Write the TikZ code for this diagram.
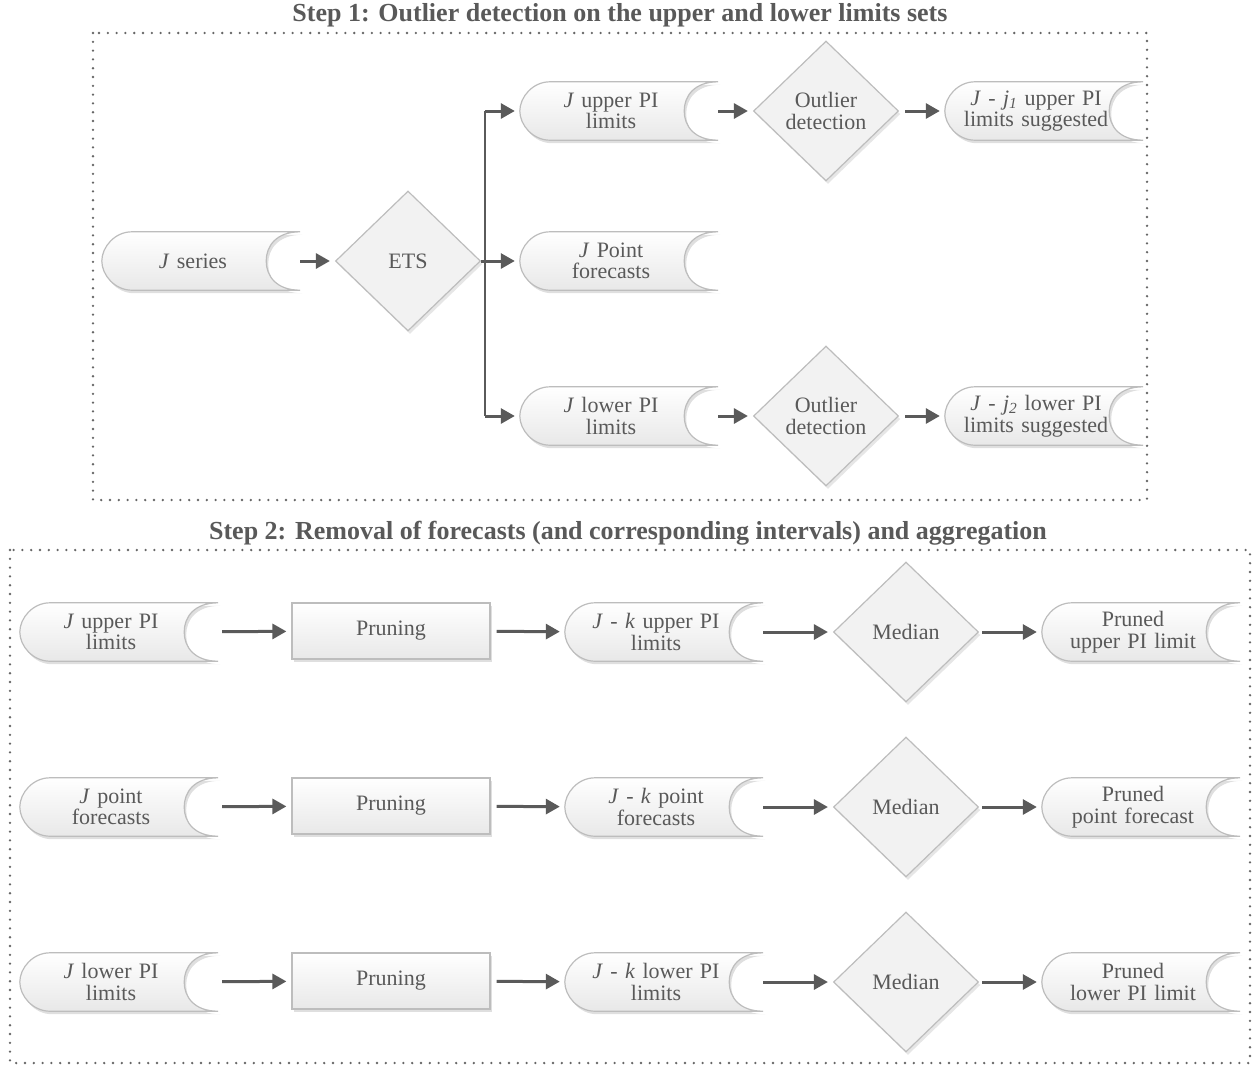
\documentclass[tikz,border=0pt]{standalone}
\usepackage{fontspec}
\setmainfont{Liberation Serif}
\usetikzlibrary{shapes.geometric, arrows.meta, shadows, backgrounds, calc}
\definecolor{txtgray}{HTML}{595959}
\definecolor{linegray}{HTML}{5A5A5A}
\definecolor{edgegray}{HTML}{BDBDBD}
\tikzset{
  labelfont/.style={font=\fontsize{22}{21.5}\selectfont, text=txtgray},
  store/.style={rectangle, text width=198pt, minimum height=58pt, inner sep=0pt, labelfont,
    execute at begin node={\centering\rightskip=16pt plus 1fil}},
  storeline/.style={draw=edgegray, line width=1.2pt, top color=white, bottom color=black!9,
    drop shadow={shadow xshift=2pt, shadow yshift=-3pt, opacity=0.25}},
  decision/.style={diamond, draw=edgegray, line width=1.2pt, fill=black!5, minimum width=145pt,
    minimum height=140pt, inner sep=0pt, align=center, labelfont,
    drop shadow={shadow xshift=2pt, shadow yshift=-3pt, opacity=0.2}},
  process/.style={rectangle, draw=edgegray, line width=1.2pt, top color=white, bottom color=black!9,
    minimum width=198pt, minimum height=56pt, inner sep=0pt, labelfont,
    drop shadow={shadow xshift=2pt, shadow yshift=-3pt, opacity=0.25}},
  flow/.style={draw=linegray, line width=3pt, -{Triangle[length=14pt,width=15pt]}, shorten >=5pt},
  stepbox/.style={draw=black!60, line width=2.6pt, dash pattern=on 0pt off 8.8pt, line cap=round},
  steptitle/.style={font=\bfseries\fontsize{26}{26}\selectfont, text=txtgray}
}

\begin{document}
\begin{tikzpicture}[x=1pt, y=-1pt]
        \useasboundingbox (0, 0) rectangle (1252, 1066);
        % Step boxes and their titles
        \draw[stepbox] (93, 33) rectangle (1147, 500);
        \draw[stepbox] (10, 550) rectangle (1250, 1063);
        \node[steptitle] (title1) at (620, 15) {Step 1: Outlier detection on the upper and lower limits sets};
        \node[steptitle] (title2) at (628, 533) {Step 2: Removal of forecasts (and corresponding intervals) and aggregation};

        % Step 1: series, ETS and the three forecast sets
        \node[store] (jser) at (201, 261) {\textit{J} series};
        \node[decision] (ets) at (408, 261) {ETS};
        \node[store] (jup) at (619, 111) {\textit{J} upper PI\\limits};
        \node[store] (jpt) at (619, 261) {\textit{J} Point\\forecasts};
        \node[store] (jlo) at (619, 416) {\textit{J} lower PI\\limits};
        \node[decision] (outup) at (826, 111) {Outlier\\detection};
        \node[decision] (outlo) at (826, 416) {Outlier\\detection};
        \node[store] (sugup) at (1044, 111) {\textit{J} - \textit{j}\textsubscript{\textit{1}} upper PI\\limits suggested};
        \node[store] (suglo) at (1044, 416) {\textit{J} - \textit{j}\textsubscript{\textit{2}} lower PI\\limits suggested};

        % Step 2: pruning and median of each set
        \node[store] (aup) at (119, 632) {\textit{J} upper PI\\limits};
        \node[store] (apt) at (119, 807) {\textit{J} point\\forecasts};
        \node[store] (alo) at (119, 982) {\textit{J} lower PI\\limits};
        \node[process] (prup) at (391, 631) {Pruning};
        \node[process] (prpt) at (391, 806) {Pruning};
        \node[process] (prlo) at (391, 981) {Pruning};
        \node[store] (kup) at (664, 632) {\textit{J} - \textit{k} upper PI\\limits};
        \node[store] (kpt) at (664, 807) {\textit{J} - \textit{k} point\\forecasts};
        \node[store] (klo) at (664, 982) {\textit{J} - \textit{k} lower PI\\limits};
        \node[decision] (medup) at (906, 632) {Median};
        \node[decision] (medpt) at (906, 807) {Median};
        \node[decision] (medlo) at (906, 982) {Median};
        \node[store] (rup) at (1141, 632) {Pruned\\upper PI limit};
        \node[store] (rpt) at (1141, 807) {Pruned\\point forecast};
        \node[store] (rlo) at (1141, 982) {Pruned\\lower PI limit};

        % Draw the stored data outlines behind the labels
        \begin{scope}[on background layer]
          \foreach \n in {jser, jup, jpt, jlo, sugup, suglo, aup, apt, alo, kup, kpt, klo, rup, rpt, rlo}
            \draw[storeline] ([xshift=30pt]\n.north west)
              .. controls ([xshift=13pt]\n.north west) and ([yshift=14pt]\n.west) .. (\n.west)
              .. controls ([yshift=-14pt]\n.west) and ([xshift=13pt]\n.south west) .. ([xshift=30pt]\n.south west)
              -- (\n.south east)
              .. controls ([xshift=-24pt]\n.south east) and ([xshift=-34pt, yshift=-15pt]\n.east) .. ([xshift=-34pt]\n.east)
              .. controls ([xshift=-34pt, yshift=15pt]\n.east) and ([xshift=-24pt]\n.north east) .. (\n.north east)
              -- cycle;
        \end{scope}

        % Step 1 connectors
        \coordinate (branch) at ($(ets.east)+(4, 0)$);
        \draw[linegray, line width=3pt] (ets.east) -- (branch);
        \draw[linegray, line width=2.4pt] (branch |- jup.west) -- (branch |- jlo.west);
        \draw[flow] (jser) -- (ets);
        \draw[flow] (branch |- jup.west) -- (jup.west);
        \draw[flow] (branch) -- (jpt.west);
        \draw[flow] (branch |- jlo.west) -- (jlo.west);
        \draw[flow] (jup) -- (outup);
        \draw[flow] (jlo) -- (outlo);
        \draw[flow, shorten <=6pt] (outup) -- (sugup);
        \draw[flow, shorten <=6pt] (outlo) -- (suglo);

        % Step 2 connectors
        \foreach \a/\b/\c/\d/\e in {aup/prup/kup/medup/rup, apt/prpt/kpt/medpt/rpt, alo/prlo/klo/medlo/rlo} {
          \draw[flow, shorten <=4pt] (\a) -- (\b);
          \draw[flow, shorten <=6pt] (\b) -- (\c);
          \draw[flow] (\c) -- (\d);
          \draw[flow, shorten <=3pt] (\d) -- (\e);
        }
    \end{tikzpicture}
\end{document}
